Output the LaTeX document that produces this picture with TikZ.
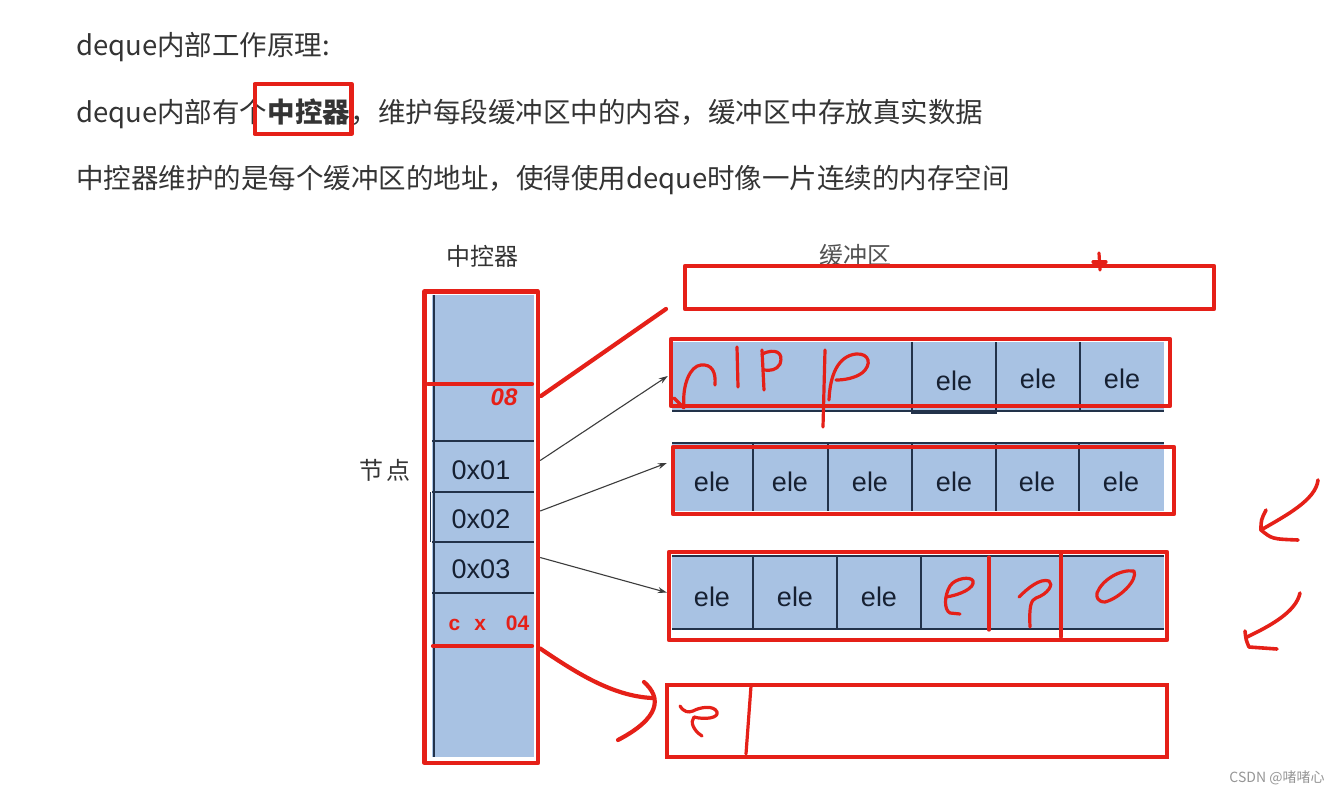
\documentclass[tikz,border=0pt]{standalone}
\usepackage{fontspec}
\setmainfont{Liberation Sans}
\newfontfamily\cjk{Noto Sans CJK SC}
\usetikzlibrary{arrows.meta,calc}
\definecolor{penred}{RGB}{229,32,24}
\definecolor{cellblue}{RGB}{168,194,227}
\definecolor{edgec}{RGB}{34,50,74}
\definecolor{txt}{RGB}{52,52,52}
\definecolor{navy}{RGB}{22,32,50}
\definecolor{linkc}{RGB}{60,60,60}
\definecolor{wm}{RGB}{150,150,150}
\newcommand{\toptext}{\cjk\fontsize{27.5}{30}\selectfont}
\begin{document}
\begin{tikzpicture}[x=1pt,y=-1pt,
  pen/.style={draw=penred, line width=4.2pt, line cap=round, line join=round},
  scribble/.style={draw=penred, line width=3.2pt, line cap=round, line join=round},
  divider/.style={draw=edgec, line width=1.8pt},
  lbl/.style={font=\fontsize{27}{29}\selectfont, text=navy, inner sep=0pt},
  cjklbl/.style={font=\cjk\fontsize{24}{26}\selectfont, text=txt, inner sep=0pt},
  rowbox/.style={fill=cellblue, draw=none, inner sep=0pt, minimum width=492pt},
  cellbox/.style={draw=none, inner sep=0pt, minimum width=108pt},
  link/.style={draw=linkc, line width=1.1pt, -{Stealth[length=9pt,width=6pt]}},
  topline/.style={anchor=base west, inner sep=0pt, text=txt, font=\toptext}
]
\useasboundingbox[fill=white] (0,0) rectangle (1342,795);

% ---------- heading text ----------
\node[topline] (l1) at (76,55) {deque内部工作原理:};
\node[topline] (l2a) at (76,122) {deque内部有个};
\node[topline, font=\toptext\bfseries] (l2b) at (l2a.base east) {中控器};
\node[topline] (l2c) at (l2b.base east) {，维护每段缓冲区中的内容，缓冲区中存放真实数据};
\draw[pen] ($(l2b.west|-0,84)+(-13,0)$) rectangle ($(l2b.east|-0,134)+(1,0)$);
\node[topline] (l3) at (76,188) {中控器维护的是每个缓冲区的地址，使得使用deque时像一片连续的内存空间};

% ---------- controller ----------
\node[cjklbl] (ctrltitle) at (482,256) {中控器};
\node[cjklbl] (jd) at (385,470) {节\hspace{3pt}点};
\fill[cellblue] (432,295) rectangle (534,757);
\draw[draw=edgec, line width=2pt] (433.5,295) -- (433.5,757);
\foreach \yy in {441,492,542,593} \draw[divider] (432,\yy) -- (534,\yy);
\draw[divider] (430.5,492) -- (430.5,542);
\node[cellbox, minimum height=51pt] (c1) at (486,466.5) {};
\node[cellbox, minimum height=50pt] (c2) at (486,517) {};
\node[cellbox, minimum height=51pt] (c3) at (486,567.5) {};
\node[lbl] (t1) at (481,470) {0x01};
\node[lbl] (t2) at (481,519) {0x02};
\node[lbl] (t3) at (481,569) {0x03};
\draw[pen] (428,384) -- (532,384);
\draw[pen] (433,646) -- (532,646);
\node[text=penred, font=\fontsize{24}{25}\selectfont\bfseries\itshape, inner sep=0pt] (h08) at (504,397) {08};
\node[text=penred, font=\fontsize{21}{22}\selectfont\bfseries, inner sep=0pt] (h04) at (489,623) {c\hspace{14pt}x\hspace{20pt}04};
\draw[pen] (424.5,291.5) rectangle (538,763);
\coordinate (ctrl08) at (541,396);

% ---------- buffers ----------
\node[cjklbl, text=txt!85] (buftitle) at (855,255) {缓冲区};
\draw[pen] (685,266) rectangle (1214,309);
\coordinate (topbuf) at (666,309);
\draw[scribble] (1099,253) -- (1100,270);
\draw[scribble] (1093,262) -- (1106,262);

% row 1
\node[rowbox, minimum height=68pt] (b1) at (918,376) {};
\draw[divider] (912,342) -- (912,413) -- (996,413) -- (996,342);
\draw[divider] (1080,342) -- (1080,411);
\draw[divider] (672,411) -- (1164,411);
\node[lbl] (e11) at (954,381) {ele};
\node[lbl] (e12) at (1038,379) {ele};
\node[lbl] (e13) at (1122,379) {ele};
\draw[pen] (671,339) rectangle (1170,406);
\draw[scribble] (684,407) .. controls (682,385) and (690,366) .. (701,365) .. controls (712,364) and (716,372) .. (715,385);
\draw[scribble] (674,398) -- (684,408);
\draw[scribble] (737,347) -- (738,387);
\draw[scribble] (762,350) -- (764,390);
\draw[scribble] (762,354) .. controls (775,348) and (784,352) .. (780,364) .. controls (777,370) and (770,371) .. (764,370);
\draw[scribble] (825,350) -- (823,427);
\draw[scribble] (829,400) .. controls (830,375) and (838,356) .. (856,354) .. controls (870,353) and (872,365) .. (862,373) .. controls (855,378) and (845,380) .. (836,380);

% row 2
\node[rowbox, minimum height=68pt] (b2) at (918,477) {};
\draw[draw=edgec, line width=2pt] (672,443) -- (1164,443);
\foreach \xx in {753,828,912,996,1079} \draw[divider] (\xx,443) -- (\xx,511);
\foreach \xx/\nm in {712/e21,790/e22,870/e23,954/e24,1037/e25,1121/e26}
  \node[lbl] (\nm) at (\xx,482) {ele};
\draw[pen] (673,447) rectangle (1174,514);

% row 3
\node[rowbox, minimum height=73pt] (b3) at (918,592.5) {};
\draw[draw=edgec, line width=2pt] (672,556) -- (1164,556);
\draw[draw=edgec, line width=2pt] (672,629) -- (1164,629);
\foreach \xx in {753,837,921} \draw[divider] (\xx,556) -- (\xx,629);
\foreach \xx/\nm in {712/e31,795/e32,879/e33}
  \node[lbl] (\nm) at (\xx,597) {ele};
\draw[pen] (669,552) rectangle (1167,640);
\draw[scribble] (989,557) -- (989,630);
\draw[scribble] (1061,553) -- (1061,637);
\draw[scribble] (946,597) .. controls (960,595) and (975,588) .. (973,581) .. controls (971,576) and (955,578) .. (950,586) .. controls (944,596) and (944,610) .. (950,613) -- (960,614);
\draw[scribble] (1019,597) .. controls (1028,588) and (1040,578) .. (1049,581) .. controls (1054,584) and (1048,594) .. (1036,598) .. controls (1031,600) and (1029,606) .. (1030,627);
\draw[scribble] (1097,593) .. controls (1102,580) and (1120,569) .. (1134,571) .. controls (1138,580) and (1120,598) .. (1105,602) .. controls (1098,602) and (1096,597) .. (1097,593);

% row 4
\node[draw=penred, line width=4.2pt, fill=white, inner sep=0pt, minimum width=500pt, minimum height=72pt] (b4) at (917,721) {};
\draw[scribble] (751,686) -- (746,754);
\draw[scribble] (680,706) .. controls (684,712) and (688,713) .. (693,711) .. controls (700,707) and (714,705) .. (717,712) .. controls (719,718) and (705,720) .. (694,717) .. controls (690,722) and (693,730) .. (702,736);

% ---------- connectors ----------
\draw[link] ([yshift=6pt]c1.east) -- ([xshift=-4pt]b1.west);
\draw[link] ([yshift=6pt]c2.east) -- ([xshift=-5pt,yshift=14pt]b2.west);
\draw[link] ([yshift=10pt]c3.east) -- ([xshift=-5pt]b3.west);
\draw[pen] (ctrl08) -- (topbuf);
\draw[pen] ([yshift=-81pt]c3.east) .. controls (575,672) and (612,696) .. (652,698);
\draw[pen] (644,682) .. controls (662,698) and (660,718) .. (618,740);

% right-side marks
\draw[scribble, line width=3.6pt] (1318,480) .. controls (1316,500) and (1285,516) .. (1261,530);
\draw[scribble, line width=3.6pt] (1266,510) .. controls (1261,520) .. (1261,530) .. controls (1272,539) .. (1298,540);
\draw[scribble, line width=3.6pt] (1300,593) .. controls (1296,612) and (1270,626) .. (1247,637);
\draw[scribble, line width=3.6pt] (1245,631) .. controls (1246,640) .. (1249,647) -- (1277,649);

% watermark
\node[font=\cjk\fontsize{14}{16}\selectfont, text=wm, inner sep=0pt] (mark) at (1277,778) {CSDN @啫啫心};
\end{tikzpicture}
\end{document}
